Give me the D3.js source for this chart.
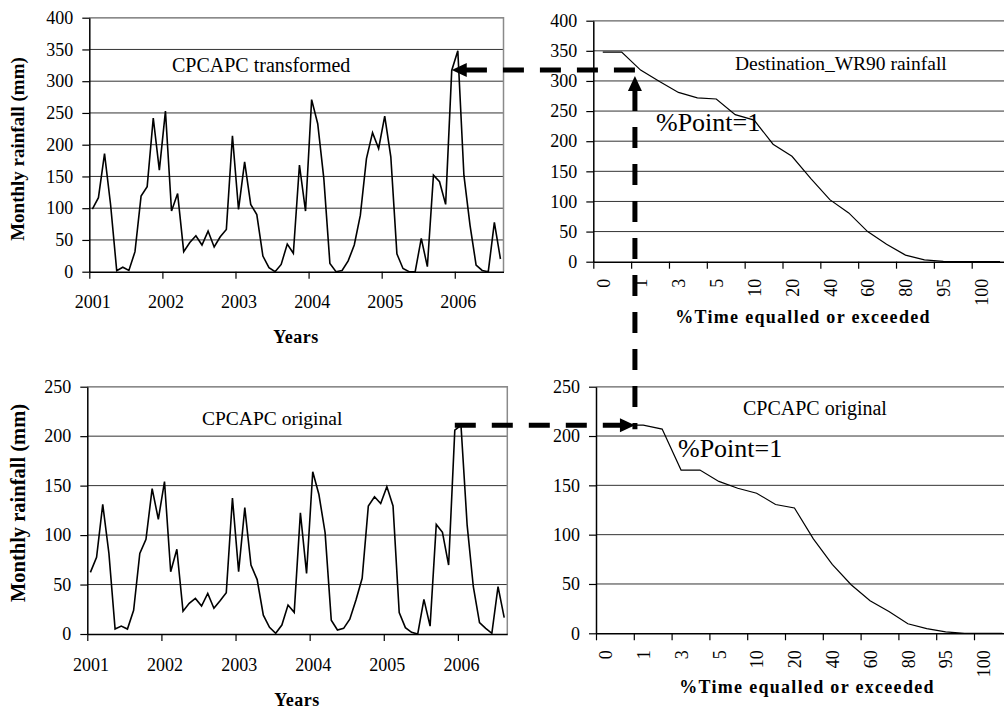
<!DOCTYPE html>
<html>
<head>
<meta charset="utf-8">
<script src="https://cdn.jsdelivr.net/npm/d3@7"></script>
<style>
body { margin: 0; background: #fff; }
svg { display: block; }
svg text { font-family: "Liberation Serif", "Times New Roman", serif; }
</style>
</head>
<body>
<div class="canvas"></div>
<script>
var width = 1004;
var height = 711;
var serif = "Liberation Serif, Times New Roman, serif";

// monthly rainfall, Jan 2001 .. Aug 2006 (68 months)
var years = ["2001", "2002", "2003", "2004", "2005", "2006"];
var transformed = [98.6, 116.5, 186, 105, 1.6, 7, 2, 31.5, 119, 134,
    242, 160, 253, 95.5, 123, 31.5, 46, 56.7, 42, 64,
    39, 55, 66.6, 214, 98, 173, 106, 90, 24.6, 6.3,
    0, 11.5, 43.5, 29, 168, 95.5, 271, 233, 147, 13,
    0, 2, 17, 42, 89, 178, 219, 194, 245, 181,
    28, 5, 0, 0, 52.5, 8, 152, 141.7, 106, 317,
    348, 152, 73.5, 10.5, 2, 0, 77.6, 20];
var original = [62.3, 77.5, 131, 81.5, 5, 8, 5, 24, 81.5, 95.7,
    147, 116, 154, 63, 85.6, 23, 31, 36, 28.3, 41,
    26, 33.7, 41.8, 137.5, 63, 127.7, 69.7, 55, 19, 6.7,
    0.7, 9, 29.3, 21.9, 122.6, 61.3, 164, 141, 102.4, 14,
    4, 5.7, 15, 34.4, 56.3, 129.4, 138.8, 132, 149, 129.4,
    21.6, 6.4, 1.7, 0, 35, 8, 110.8, 102.8, 69.7, 206,
    211, 110, 47.8, 11.5, 5.7, 0.7, 47.8, 16.5];

// duration curves: 22 categories, label on every second one
var pctLabels = ["0", "1", "3", "5", "10", "20", "40", "60", "80", "95", "100"];
var destWR90 = [348, 348, 318, 299, 281, 272, 270, 244, 235, 195, 175,
    138, 103, 81, 50, 29, 11, 3, 0.6, 0, 0, 0];
var origCurve = [211, 211, 211, 207, 165.5, 165.5, 154, 147, 142, 130.6, 127,
    95.7, 69.8, 49.2, 33, 22, 9.7, 4.7, 1.5, 0, 0, 0];

var ticksTop = [0, 50, 100, 150, 200, 250, 300, 350, 400];
var ticksBottom = [0, 50, 100, 150, 200, 250];

var svg = d3.select(".canvas").append("svg")
    .attr("width", width)
    .attr("height", height)
    .style("background", "white");

function styleAxis(g) {
    g.attr("font-family", serif).attr("font-size", 18);
    g.selectAll("path.domain").attr("stroke", "#000").attr("stroke-width", 1.5);
    g.selectAll(".tick line").attr("stroke", "#000").attr("stroke-width", 1.2);
    g.selectAll(".tick text").attr("fill", "#000").attr("font-family", serif);
}

function panel(p) {
    var n = p.values.length;
    var x = d3.scaleLinear().domain([0, n]).range([p.x0, p.x1]);
    var y = d3.scaleLinear().domain([0, p.max]).range([p.yBot, p.yTop]);
    var cw = x(1) - x(0);
    var g = svg.append("g");

    g.selectAll("line.grid")
        .data(p.ticks.slice(1))
        .enter()
        .append("line")
        .attr("class", "grid")
        .attr("x1", p.x0).attr("x2", p.x1)
        .attr("y1", d => y(d)).attr("y2", d => y(d))
        .attr("stroke", "#333")
        .attr("stroke-width", 1);

    // grey frame top and right
    g.append("path")
        .attr("d", `M${p.x0},${p.yTop}H${p.x1}V${p.yBot}`)
        .attr("fill", "none")
        .attr("stroke", "#8a8a8a")
        .attr("stroke-width", 1.5);

    g.append("path")
        .datum(p.values)
        .attr("d", d3.line().x((d, i) => x(i + 0.5)).y(d => y(d)))
        .attr("fill", "none")
        .attr("stroke", "#000")
        .attr("stroke-width", p.lineW)
        .attr("stroke-linejoin", "miter");

    g.append("g")
        .attr("transform", `translate(${p.x0},0)`)
        .call(d3.axisLeft(y).tickValues(p.ticks).tickSize(7).tickPadding(9).tickSizeOuter(0))
        .call(styleAxis);

    var xa = g.append("g").attr("transform", `translate(0,${p.yBot})`);
    if (p.kind == "time") {
        xa.call(d3.axisBottom(x)
            .tickValues(years.map((d, i) => i * 12))
            .tickFormat((d, i) => years[i])
            .tickSize(7).tickPadding(17).tickSizeOuter(0))
            .call(styleAxis);
        xa.selectAll(".tick text").attr("x", cw / 2);
    } else {
        xa.call(d3.axisBottom(x)
            .tickValues(pctLabels.map((d, i) => i * 2))
            .tickFormat((d, i) => pctLabels[i])
            .tickSize(7).tickSizeOuter(0))
            .call(styleAxis);
        xa.selectAll(".tick text")
            .attr("x", 0).attr("y", 0).attr("dy", "0.35em")
            .attr("text-anchor", "end")
            .attr("transform", `translate(${cw / 2},17) rotate(-90)`);
    }
    return { x: x, y: y };
}

var tl = panel({ values: transformed, kind: "time", x0: 89.3, x1: 503.5, yTop: 17.7, yBot: 271.7, max: 400, ticks: ticksTop, lineW: 1.6 });
var bl = panel({ values: original, kind: "time", x0: 87.3, x1: 507.3, yTop: 386.7, yBot: 634, max: 250, ticks: ticksBottom, lineW: 1.6 });
var tr = panel({ values: destWR90, kind: "pct", x0: 593.3, x1: 593.3 + 22 * 18.92, yTop: 20.7, yBot: 261.7, max: 400, ticks: ticksTop, lineW: 1.2 });
var br = panel({ values: origCurve, kind: "pct", x0: 596, x1: 596 + 22 * 18.9, yTop: 386.7, yBot: 633.3, max: 250, ticks: ticksBottom, lineW: 1.2 });

// titles and axis names
function label(txt, x, y, size, opts) {
    opts = opts || {};
    var t = svg.append("text")
        .attr("x", x).attr("y", y)
        .attr("font-family", serif)
        .attr("font-size", size)
        .attr("fill", "#000")
        .attr("text-anchor", opts.anchor || "start")
        .attr("font-weight", opts.bold ? "bold" : "normal")
        .text(txt);
    if (opts.ls) t.attr("letter-spacing", opts.ls);
    if (opts.rot) t.attr("transform", `rotate(-90,${x},${y})`);
    return t;
}

label("CPCAPC transformed", 172, 71.7, 20);
label("CPCAPC original", 202, 425, 19.5);
label("Destination_WR90 rainfall", 735, 70, 19.5);
label("CPCAPC original", 743, 415, 20);
label("%Point=1", 656, 131, 26);
label("%Point=1", 678, 457, 26);

label("Monthly rainfall (mm)", 24, 149, 19, { bold: true, anchor: "middle", rot: true });
label("Monthly rainfall (mm)", 25, 503, 20.5, { bold: true, anchor: "middle", rot: true });
label("Years", 296, 343, 18, { bold: true, anchor: "middle", ls: 0.5 });
label("Years", 297, 706, 18, { bold: true, anchor: "middle", ls: 0.5 });
label("%Time equalled or exceeded", 803, 323, 18, { bold: true, anchor: "middle", ls: 1.3 });
label("%Time equalled or exceeded", 807, 693, 18, { bold: true, anchor: "middle", ls: 1.3 });

// dashed arrows linking the peak to the %Point=1 values
var vx = tr.x(2.2);
var yT = tr.y(destWR90[2]);
var yB = br.y(origCurve[2]);
var tipL = tl.x(59.5);
var startB = bl.x(59.5);

function dash(pts) {
    svg.append("path")
        .attr("d", d3.line()(pts))
        .attr("fill", "none")
        .attr("stroke", "#000")
        .attr("stroke-width", 5)
        .attr("stroke-dasharray", "21,16");
}
function head(tx, ty, dir) {
    var L = 15, W = 7, pts;
    if (dir == "left") pts = [[tx, ty], [tx + L, ty - W], [tx + L, ty + W]];
    if (dir == "right") pts = [[tx, ty], [tx - L, ty - W], [tx - L, ty + W]];
    if (dir == "up") pts = [[tx, ty], [tx - W, ty + L], [tx + W, ty + L]];
    svg.append("polygon").attr("points", pts.join(" ")).attr("fill", "#000");
}

dash([[vx, yT], [tipL + 12, yT]]);
head(tipL, yT, "left");
dash([[vx, yT + 20], [vx, yB + 4]]);
head(vx, yT + 6, "up");
dash([[startB, yB], [vx - 12, yB]]);
head(vx, yB, "right");
</script>
</body>
</html>
